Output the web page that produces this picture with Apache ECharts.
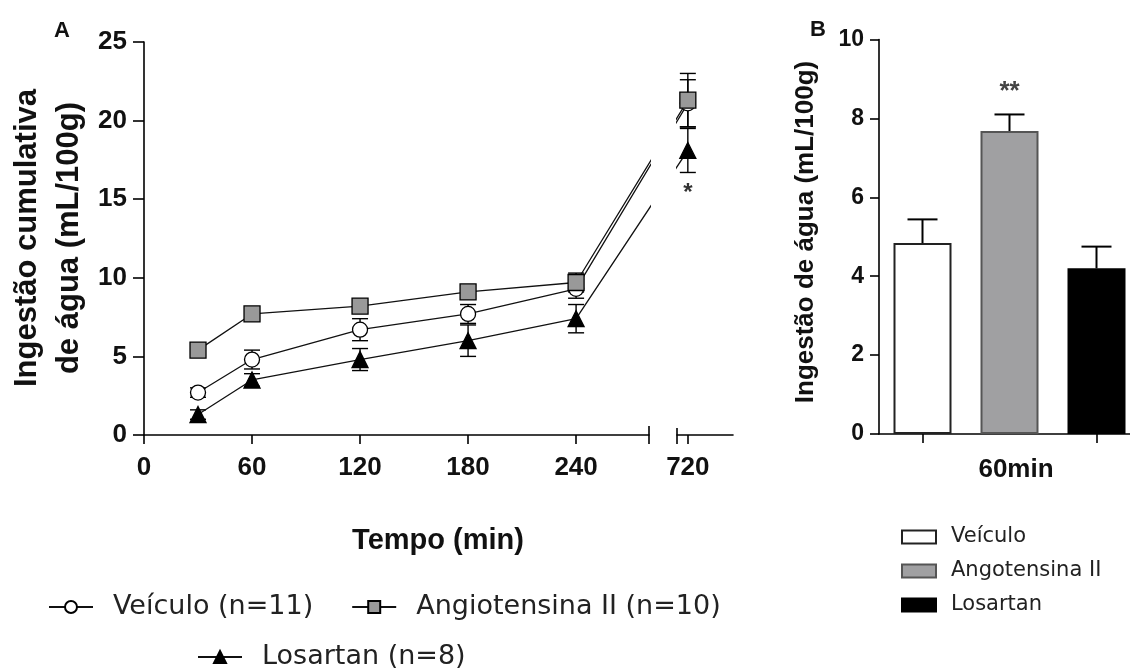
<!DOCTYPE html>
<html>
<head>
<meta charset="utf-8">
<title>Ingestão de água</title>
<script src="https://cdn.jsdelivr.net/npm/echarts@6.0.0/dist/echarts.min.js"></script>
<style>
  html, body { margin: 0; padding: 0; background: #fff; }
  #chart { width: 1130px; height: 669px; }
</style>
</head>
<body>
<div id="chart"></div>
<script>
// painel A: ingestão cumulativa (média e EPM)
var tempos = [30, 60, 120, 180, 240, 720];
var veiculoMedia = [2.7, 4.8, 6.7, 7.7, 9.3, 21.1];
var veiculoEpm = [0.3, 0.6, 0.7, 0.6, 0.6, 1.5];
var angioMedia = [5.4, 7.7, 8.2, 9.1, 9.7, 21.3];
var angioEpm = [0.3, 0.3, 0.4, 0.4, 0.6, 1.7];
var losartanMedia = [1.3, 3.5, 4.8, 6.0, 7.4, 18.1];
var losartanEpm = [0.3, 0.4, 0.7, 1.0, 0.9, 1.4];
var losartanSig = ['', '', '', '', '', '*'];
var ticksA = [0, 60, 120, 180, 240];
var ticksA2 = [720];

// painel B: 60 min
var gruposB = ['Veículo', 'Angotensina II', 'Losartan'];
var mediaB = [4.84, 7.68, 4.2];
var epmB = [0.6, 0.42, 0.55];
var sigB = ['', '**', ''];

// eixo X quebrado: 720 min desenhado logo depois do corte
var corteMin = 280.5;
var desloc = 418;
function posX(t) { return t > corteMin ? t - desloc : t; }

var FONTE = "'Liberation Sans', Arial, sans-serif";
var FONTE_LEG = "'DejaVu Sans', Verdana, sans-serif";
var PRETO = '#111';
var eixoLinha = { show: true, onZero: false, lineStyle: { color: '#000', width: 1.6 } };

var grupos = [
  { nome: 'Veículo (n=11)', media: veiculoMedia, epm: veiculoEpm, symbol: 'circle', size: 15, cor: '#fff' },
  { nome: 'Angiotensina II (n=10)', media: angioMedia, epm: angioEpm, symbol: 'rect', size: 16, cor: '#999' },
  { nome: 'Losartan (n=8)', media: losartanMedia, epm: losartanEpm, symbol: 'triangle', size: 16, cor: '#000', sig: losartanSig }
];

function barraErro(capW, soCima) {
  return function (params, api) {
    var x = api.value(0), m = api.value(1), e = api.value(2);
    var hi = api.coord([x, m + e]);
    var lo = api.coord([x, soCima ? m : m - e]);
    var st = { stroke: '#000', lineWidth: soCima ? 2 : 1.4 };
    var filhos = [
      { type: 'line', shape: { x1: hi[0], y1: hi[1], x2: lo[0], y2: lo[1] }, style: st },
      { type: 'line', shape: { x1: hi[0] - capW, y1: hi[1], x2: hi[0] + capW, y2: hi[1] }, style: st }
    ];
    if (!soCima) {
      filhos.push({ type: 'line', shape: { x1: lo[0] - capW, y1: lo[1], x2: lo[0] + capW, y2: lo[1] }, style: st });
    }
    return { type: 'group', children: filhos };
  };
}

var series = [];
// barras de erro (atrás dos símbolos)
grupos.forEach(function (g, k) {
  [0, 1].forEach(function (gi) {
    var dados = [];
    tempos.forEach(function (t, i) {
      if ((gi === 0) === (t <= corteMin)) dados.push([posX(t), g.media[i], g.epm[i]]);
    });
    series.push({
      type: 'custom', name: 'epm' + k + '_' + gi, xAxisIndex: gi, yAxisIndex: gi,
      renderItem: barraErro(8, false), encode: { x: 0, y: 1 }, data: dados, z: 1, silent: true
    });
  });
});
// linhas com símbolos, nos dois trechos do eixo
grupos.forEach(function (g) {
  [0, 1].forEach(function (gi) {
    series.push({
      type: 'line', name: g.nome, xAxisIndex: gi, yAxisIndex: gi, clip: true,
      symbol: g.symbol, symbolSize: g.size, z: 3,
      itemStyle: { color: g.cor, borderColor: '#000', borderWidth: 1.3 },
      lineStyle: { color: PRETO, width: 1.3 },
      data: tempos.map(function (t, i) {
        var item = { value: [posX(t), g.media[i]] };
        if (g.sig && g.sig[i]) {
          item.label = { show: true, position: 'bottom', distance: 22, formatter: g.sig[i],
            fontFamily: FONTE, fontSize: 24, fontWeight: 'bold', color: '#333' };
        }
        return item;
      })
    });
  });
});
// painel B
var coresB = ['#fff', '#a0a0a2', '#000'];
var bordasB = ['#222', '#555', '#000'];
gruposB.forEach(function (nome, i) {
  series.push({
    type: 'bar', name: nome, xAxisIndex: 2, yAxisIndex: 2, barWidth: 58, barGap: '-100%',
    itemStyle: { color: coresB[i], borderColor: bordasB[i], borderWidth: 2 },
    data: mediaB.map(function (v, j) {
      if (j !== i) return '-';
      var item = { value: v };
      if (sigB[j]) {
        item.label = { show: true, position: 'top', distance: 26, formatter: sigB[j],
          fontFamily: FONTE, fontSize: 26, fontWeight: 'bold', color: '#444' };
      }
      return item;
    })
  });
});
series.push({
  type: 'custom', name: 'epmB', xAxisIndex: 2, yAxisIndex: 2, z: 3, silent: true,
  renderItem: barraErro(15, true), encode: { x: 0, y: 1 },
  data: gruposB.map(function (g, i) { return [i, mediaB[i], epmB[i]]; })
});

var rotuloEixo = { fontFamily: FONTE, fontWeight: 'bold', color: PRETO };
var legTexto = { fontFamily: FONTE_LEG, fontSize: 27, color: '#222', lineHeight: 30, padding: [0, 0, 0, 15] };

var option = {
  animation: false,
  backgroundColor: '#fff',
  grid: [
    { left: 144, top: 42, width: 505, height: 393, outerBoundsMode: 'none' },
    { left: 677, top: 42, width: 56, height: 393, outerBoundsMode: 'none' },
    { left: 879, top: 39.5, width: 261, height: 394.5, outerBoundsMode: 'none' }
  ],
  xAxis: [
    { gridIndex: 0, type: 'value', min: 0, max: corteMin, axisLine: eixoLinha,
      axisTick: { show: true, length: 9, customValues: ticksA, lineStyle: { color: '#000', width: 1.6 } },
      axisLabel: Object.assign({ customValues: ticksA, fontSize: 26, margin: 20 }, rotuloEixo),
      splitLine: { show: false } },
    { gridIndex: 1, type: 'value', min: 296, max: 327, axisLine: eixoLinha,
      axisTick: { show: true, length: 9, customValues: ticksA2.map(posX), lineStyle: { color: '#000', width: 1.6 } },
      axisLabel: Object.assign({ customValues: ticksA2.map(posX), fontSize: 26, margin: 20,
        formatter: function (v) { return String(Math.round(v + desloc)); } }, rotuloEixo),
      splitLine: { show: false } },
    { gridIndex: 2, type: 'category', data: gruposB, axisLine: eixoLinha,
      axisTick: { show: true, alignWithLabel: true, length: 9, lineStyle: { color: '#000', width: 1.6 } },
      axisLabel: { show: false }, splitLine: { show: false } }
  ],
  yAxis: [
    { gridIndex: 0, type: 'value', min: 0, max: 25, interval: 5, axisLine: eixoLinha,
      axisTick: { show: true, length: 11, lineStyle: { color: '#000', width: 1.6 } },
      axisLabel: Object.assign({ fontSize: 26, margin: 17 }, rotuloEixo), splitLine: { show: false } },
    { gridIndex: 1, type: 'value', min: 0, max: 25, show: false },
    { gridIndex: 2, type: 'value', min: 0, max: 10, interval: 2, axisLine: eixoLinha,
      axisTick: { show: true, length: 9, lineStyle: { color: '#000', width: 1.6 } },
      axisLabel: Object.assign({ fontSize: 23, margin: 15 }, rotuloEixo), splitLine: { show: false } }
  ],
  legend: [
    { data: [grupos[0].nome, grupos[1].nome], left: 43, top: 587, itemWidth: 44, itemHeight: 15,
      itemGap: 38, textStyle: legTexto, selectedMode: false },
    { data: [grupos[2].nome], left: 192, top: 637, itemWidth: 44, itemHeight: 15,
      textStyle: legTexto, selectedMode: false },
    { data: gruposB, orient: 'vertical', left: 896, top: 521, itemWidth: 34, itemHeight: 13, itemGap: 12,
      icon: 'rect', selectedMode: false,
      textStyle: { fontFamily: FONTE_LEG, fontSize: 21, color: '#222', lineHeight: 22, padding: [0, 0, 0, 10] } }
  ],
  series: series
};

var chart = echarts.init(document.getElementById('chart'));
chart.setOption(option);

// textos soltos e marcas de quebra do eixo
var fimA = chart.convertToPixel({ gridIndex: 0 }, [corteMin, 0]);
var iniA = chart.convertToPixel({ gridIndex: 1 }, [296, 0]);
function texto(id, x, y, txt, size, rot, lh) {
  return { type: 'text', id: id, x: x, y: y, rotation: rot || 0, z: 10,
    style: { text: txt, fontFamily: FONTE, fontSize: size, fontWeight: 'bold', fill: PRETO,
      align: 'center', verticalAlign: 'middle', lineHeight: lh || size } };
}
chart.setOption({
  graphic: [
    texto('lblA', 62, 31, 'A', 22),
    texto('lblB', 818, 30, 'B', 22),
    texto('yA', 48, 238, 'Ingestão cumulativa\nde água (mL/100g)', 31, Math.PI / 2, 42),
    texto('xA', 438, 541, 'Tempo (min)', 29),
    texto('yB', 806, 232, 'Ingestão de água (mL/100g)', 26, Math.PI / 2),
    texto('xB', 1016, 470, '60min', 26),
    { type: 'line', id: 'q1', shape: { x1: fimA[0], y1: fimA[1] - 9, x2: fimA[0], y2: fimA[1] + 9 },
      style: { stroke: '#000', lineWidth: 1.6 } },
    { type: 'line', id: 'q2', shape: { x1: iniA[0], y1: iniA[1] - 7, x2: iniA[0], y2: iniA[1] + 9 },
      style: { stroke: '#000', lineWidth: 1.6 } }
  ]
});
</script>
</body>
</html>
